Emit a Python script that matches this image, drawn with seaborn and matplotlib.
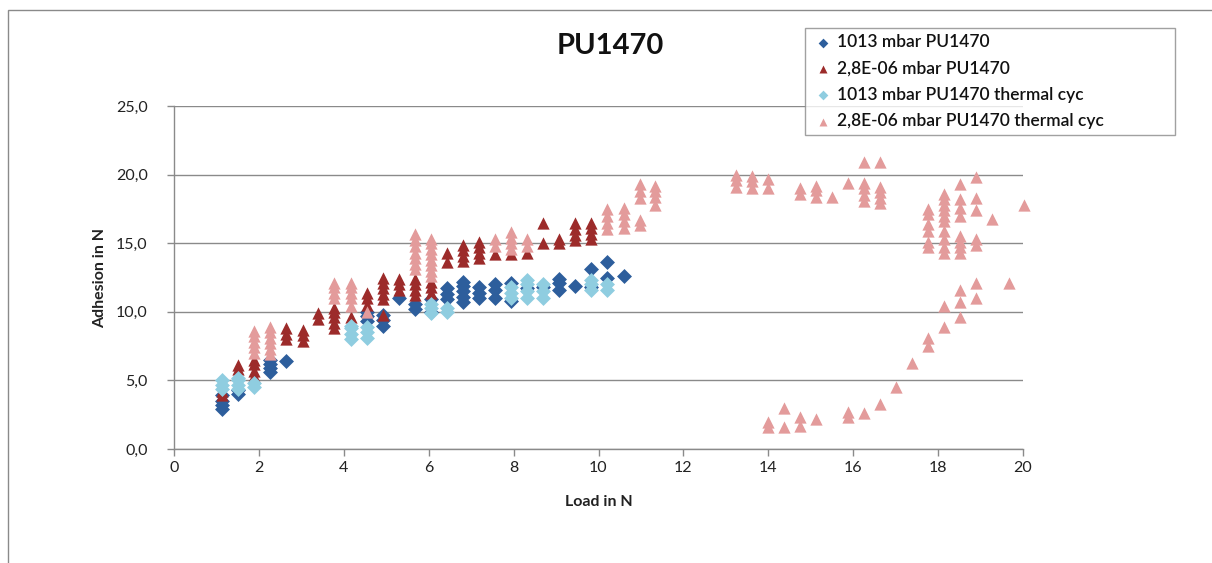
import pandas as pd
import matplotlib
matplotlib.use('Agg')
import matplotlib.pyplot as plt
from matplotlib.patches import Rectangle
from matplotlib.ticker import FuncFormatter, MultipleLocator
import seaborn as sns

sns.set_theme(style='white')
plt.rcParams['font.family'] = ['Lato', 'DejaVu Sans']

# Data: (load in N, [adhesion values in N])
series_names = ['1013 mbar PU1470', '2,8E-06 mbar PU1470',
                '1013 mbar PU1470 thermal cyc', '2,8E-06 mbar PU1470 thermal cyc']
series_colors = ['#2D5E9C', '#9C2B2A', '#8FCDE0', '#E39B9B']
series_markers = ['D', '^', 'D', '^']

atm_pts = [
    (1.13, [2.9, 3.2, 3.5, 3.9]), (1.51, [4.0, 4.3]),
    (2.27, [5.6, 5.9, 6.2, 6.5]), (2.65, [6.4]),
    (4.54, [9.3, 9.7, 10.0]), (4.92, [9.0, 9.4, 9.8]), (5.30, [11.0]),
    (5.67, [10.2, 10.6]), (6.05, [10.0, 10.9]), (6.43, [10.9, 11.3, 11.7]),
    (6.81, [10.7, 11.1, 11.5, 11.9, 12.2]), (7.19, [11.0, 11.4, 11.8]),
    (7.56, [11.0, 11.6, 12.0]), (7.94, [10.8, 12.1]), (8.32, [11.7]),
    (8.70, [11.8]), (9.08, [11.6, 12.1, 12.4]), (9.45, [11.9]),
    (9.83, [11.8, 13.1]), (10.21, [12.5, 13.6]), (10.59, [12.6]),
]

vac_pts = [
    (1.13, [3.9, 4.2]), (1.51, [5.5, 5.8, 6.1]), (1.89, [5.3, 5.7, 6.2, 6.5]),
    (2.65, [8.0, 8.4, 8.8]), (3.03, [7.9, 8.3, 8.7]), (3.40, [9.5, 9.9]),
    (3.78, [8.8, 9.2, 9.6, 10.0, 10.3]), (4.16, [9.6]),
    (4.54, [10.5, 11.0, 11.4]), (4.92, [9.8, 10.9, 11.3, 11.7, 12.1, 12.5]),
    (5.30, [11.6, 12.0, 12.4]), (5.67, [11.2, 11.6, 12.0, 12.4]),
    (6.05, [11.4, 11.8, 12.2]), (6.43, [13.6, 14.3]),
    (6.81, [13.7, 14.1, 14.5, 14.9]), (7.19, [13.9, 14.3, 14.7, 15.1]),
    (7.56, [14.2]), (7.94, [14.2]), (8.32, [14.3]), (8.70, [15.0, 16.5]),
    (9.08, [15.0, 15.3]), (9.45, [15.2, 15.6, 16.0, 16.5]),
    (9.83, [15.3, 15.7, 16.1, 16.5]),
]

atm_cyc_pts = [
    (1.13, [4.4, 4.7, 5.0]), (1.51, [4.4, 4.7, 5.0, 5.2]), (1.89, [4.5, 4.8]),
    (4.16, [8.0, 8.4, 8.8, 9.0]), (4.54, [8.1, 8.5, 8.9]),
    (6.05, [9.9, 10.3, 10.6]), (6.43, [10.0, 10.3]),
    (7.94, [11.0, 11.4, 11.8]), (8.32, [11.0, 11.5, 12.0, 12.3]),
    (8.70, [11.0, 11.5, 12.0]), (9.83, [11.6, 12.0, 12.3]), (10.21, [11.6, 12.0]),
]

vac_cyc_pts = [
    (1.89, [7.0, 7.4, 7.8, 8.2, 8.6]), (2.27, [6.9, 7.3, 7.7, 8.1, 8.5, 8.9]),
    (3.78, [11.0, 11.4, 11.8, 12.1]), (4.16, [10.4, 11.0, 11.4, 11.8, 12.1]),
    (4.54, [10.0]), (5.67, [13.1, 13.5, 13.9, 14.3, 14.8, 15.2, 15.7]),
    (6.05, [12.6, 13.0, 13.4, 13.8, 14.2, 14.6, 15.0, 15.3]),
    (7.56, [14.8, 15.3]), (7.94, [14.6, 15.0, 15.4, 15.8]), (8.32, [14.8, 15.3]),
    (10.21, [16.0, 16.5, 17.0, 17.5]), (10.59, [16.1, 16.6, 17.1, 17.6]),
    (10.97, [16.3, 16.7, 18.3, 18.8, 19.3]), (11.34, [17.8, 18.4, 18.8, 19.2]),
    (13.23, [19.1, 19.6, 20.0]), (13.61, [19.0, 19.5, 19.9]),
    (13.99, [1.6, 2.0, 19.0, 19.7]), (14.37, [1.6, 3.0]),
    (14.74, [1.7, 2.3, 18.6, 19.0]), (15.12, [2.2, 18.4, 18.9, 19.2]),
    (15.50, [18.4]), (15.88, [2.3, 2.7, 19.4]),
    (16.25, [2.6, 18.1, 18.5, 19.0, 19.4, 20.9]),
    (16.63, [3.3, 17.9, 18.3, 18.7, 19.1, 20.9]),
    (17.01, [4.5]), (17.39, [6.3]),
    (17.77, [7.5, 8.1, 14.7, 15.1, 15.9, 16.4, 17.1, 17.5]),
    (18.14, [8.9, 10.4, 14.3, 14.7, 15.3, 15.9, 16.6, 17.0, 17.4, 17.8, 18.2, 18.6]),
    (18.52, [9.6, 10.7, 11.6, 14.3, 14.7, 15.1, 15.5, 17.0, 17.6, 18.2, 19.3]),
    (18.90, [11.0, 12.1, 14.9, 15.3, 17.4, 18.3, 19.8]),
    (19.28, [16.8]), (19.66, [12.1]), (20.03, [17.8]),
]

# Long-form table
rows = []
for name, pts in zip(series_names, [atm_pts, vac_pts, atm_cyc_pts, vac_cyc_pts]):
    for load, vals in pts:
        for v in vals:
            rows.append({'load': load, 'adhesion': v, 'series': name})
df = pd.DataFrame(rows)

fig = plt.figure(figsize=(12.12, 5.63), dpi=100)
ax = fig.add_axes([174 / 1212, 1 - 449 / 563, (1023 - 174) / 1212, (449 - 106) / 563])

for name, color, marker in zip(series_names, series_colors, series_markers):
    sub = df[df['series'] == name]
    size = 58 if marker == 'D' else 78
    sns.scatterplot(data=sub, x='load', y='adhesion', ax=ax, color=color,
                    marker=marker, s=size, linewidth=0, label=name, zorder=3,
                    clip_on=False)

ax.set_xlim(0, 20)
ax.set_ylim(0, 25)
ax.xaxis.set_major_locator(MultipleLocator(2))
ax.yaxis.set_major_locator(MultipleLocator(5))
ax.yaxis.set_major_formatter(FuncFormatter(lambda v, p: f'{v:.1f}'.replace('.', ',')))
ax.grid(axis='y', color='#8a8a8a', linewidth=1)
ax.grid(axis='x', visible=False)
for side in ['top', 'right']:
    ax.spines[side].set_visible(False)
for side in ['left', 'bottom']:
    ax.spines[side].set_color('#8a8a8a')
    ax.spines[side].set_linewidth(1)
ax.tick_params(axis='both', which='major', direction='out', length=5, width=1,
               color='#8a8a8a', labelsize=11.5, labelcolor='#222222')
ax.tick_params(axis='x', bottom=True, pad=4)
ax.tick_params(axis='y', left=True, pad=14)

ax.set_xlabel('Load in N', fontsize=11.5, fontweight='bold', color='#222222', labelpad=14)
ax.set_ylabel('Adhesion in N', fontsize=11.5, fontweight='bold', color='#222222', labelpad=6)
fig.text(610 / 1212, 1 - 46 / 563, 'PU1470', fontsize=21, fontweight='bold',
         ha='center', va='center', color='#111111')

leg = ax.legend(loc='upper left',
                bbox_to_anchor=(805 / 1212, (563 - 137) / 563, 370 / 1212, 109 / 563),
                bbox_transform=fig.transFigure, mode='expand', frameon=True,
                fancybox=False, edgecolor='#8a8a8a', fontsize=12.5,
                handletextpad=0.1, labelspacing=0.6, borderpad=0.35,
                handlelength=1.4, borderaxespad=0, markerscale=0.65)
leg.get_frame().set_linewidth(1)
for t in leg.get_texts():
    t.set_color('#111111')
    t.set_fontweight('semibold')

# outer chart frame
fig.add_artist(Rectangle((8 / 1212, -0.01), 1.1, 1 - 10 / 563 + 0.01,
                         transform=fig.transFigure, fill=False,
                         edgecolor='#8a8a8a', linewidth=1))

fig.savefig('out.png', dpi=100)
